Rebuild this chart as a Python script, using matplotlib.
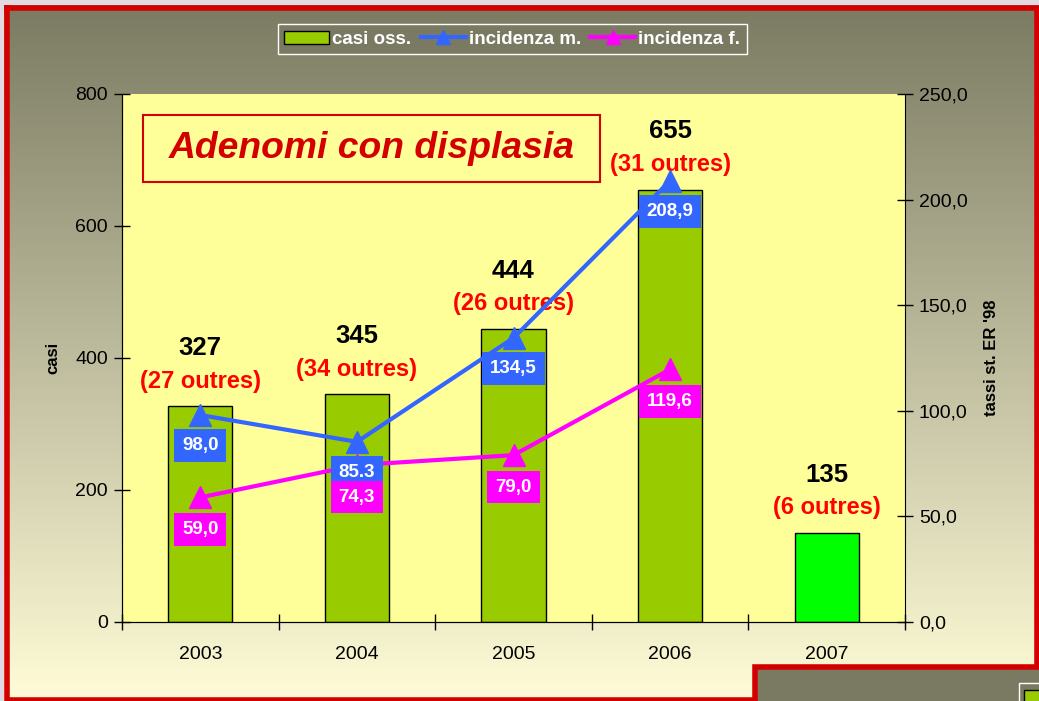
import numpy as np
import matplotlib.pyplot as plt
from matplotlib.patches import Rectangle
from matplotlib.lines import Line2D
from matplotlib.patches import Patch

# =====================================================
# DATA
# =====================================================
years = ["2003", "2004", "2005", "2006", "2007"]
casi = [327, 345, 444, 655, 135]
outres = [27, 34, 26, 31, 6]
inc_m = [98.0, 85.3, 134.5, 208.9]
inc_f = [59.0, 74.3, 79.0, 119.6]
inc_m_labels = ["98,0", "85.3", "134,5", "208,9"]
inc_f_labels = ["59,0", "74,3", "79,0", "119,6"]

# =====================================================
# STYLE
# =====================================================
plt.rcParams['font.family'] = ['Liberation Sans', 'DejaVu Sans']
RED = "#d40000"
OLIVE = "#7a7a62"
PLOT_BG = "#ffff99"
BAR = "#99cc00"
BAR_LAST = "#00ff00"
BLUE = "#3366ff"
PINK = "#ff00ff"

W, H = 1039, 701
fig = plt.figure(figsize=(W / 100, H / 100), dpi=100)

# --- background panel (gradient + red frame) ---
bg = fig.add_axes([0, 0, 1, 1], zorder=-10)
top_c = np.array([122, 122, 98]) / 255
bot_c = np.array([255, 252, 215]) / 255
t = np.linspace(0, 1, 300)[:, None]
grad = top_c[None, :] * (1 - t) + bot_c[None, :] * t
bg.imshow(grad[:, None, :], extent=[0, W, H, 0], aspect='auto')
bg.add_patch(Rectangle((0, 0), W, 5, color="#e2dae2", lw=0))
bg.add_patch(Rectangle((0, 0), 4, H, color="#e2dae2", lw=0))
bg.add_patch(Rectangle((755, 667), W - 755, H - 667, color=OLIVE, lw=0))
bg.add_patch(Rectangle((1019, 683), 40, 30, fill=False, ec="white", lw=1))
bg.add_patch(Rectangle((1024, 690), 30, 20, fc=BAR, ec="black", lw=1))
frame_x = [6.5, 1036.5, 1036.5, 755, 755, 6.5, 6.5]
frame_y = [7.5, 7.5, 667, 667, 699.5, 699.5, 7.5]
bg.plot(frame_x, frame_y, color=RED, lw=4, solid_joinstyle='miter')
bg.set_xlim(0, W)
bg.set_ylim(H, 0)
bg.axis('off')

# =====================================================
# MAIN AXES
# =====================================================
ax = fig.add_axes([122 / W, 1 - 622 / H, 783 / W, 528 / H])
ax.set_facecolor(PLOT_BG)
x = np.arange(len(years))
colors = [BAR] * (len(years) - 1) + [BAR_LAST]
ax.bar(x, casi, width=0.41, color=colors, edgecolor="black", linewidth=1, zorder=2)
ax.set_xlim(-0.5, len(years) - 0.5)
ax.set_ylim(0, 800)
ax.set_yticks(range(0, 801, 200))
ax.set_xticks(x)
ax.set_xticklabels(years)
ax.set_xticks(np.arange(-0.5, len(years), 1.0), minor=True)
ax.tick_params(axis='x', which='major', length=0, pad=17, labelsize=14)
ax.tick_params(axis='x', which='minor', direction='inout', length=12, width=1)
ax.tick_params(axis='y', direction='inout', length=12, width=1, labelsize=14, pad=4)
ax.spines['top'].set_visible(False)
ax.spines['right'].set_visible(False)
ax.set_ylabel("casi", fontsize=12, fontweight='bold', labelpad=11)

for xi, c, o in zip(x, casi, outres):
    ax.annotate(str(c), (xi, c), xytext=(0, 42), textcoords='offset points',
                ha='center', va='center', fontsize=18.5, fontweight='bold', color='black')
    ax.annotate(f"({o} outres)", (xi, c), xytext=(0, 18), textcoords='offset points',
                ha='center', va='center', fontsize=17, fontweight='bold', color='red')

# title box
ax.add_patch(Rectangle((0.027, 0.833), 0.584, 0.127, transform=ax.transAxes,
                       fc=PLOT_BG, ec=RED, lw=1.5, zorder=3))
ax.text(0.319, 0.897, "Adenomi con displasia", transform=ax.transAxes,
        ha='center', va='center', fontsize=26.8, fontweight='bold',
        fontstyle='italic', color=RED, zorder=4)

# =====================================================
# RIGHT AXIS (rates)
# =====================================================
ax2 = ax.twinx()
xl = x[:len(inc_m)]
ax2.plot(xl, inc_m, color=BLUE, lw=3, marker='^', markersize=16, zorder=3)
ax2.plot(xl, inc_f, color=PINK, lw=3, marker='^', markersize=16, zorder=3)
ax2.set_ylim(0, 250)
ax2.set_yticks(np.arange(0, 251, 50))
ax2.set_yticklabels([f"{v:.1f}".replace(".", ",") for v in np.arange(0, 251, 50)])
ax2.tick_params(axis='y', direction='inout', length=12, width=1, labelsize=14, pad=4)
ax2.spines['top'].set_visible(False)
ax2.set_ylabel("tassi st. ER '98", fontsize=12, fontweight='bold', labelpad=12)

for xi, v, lab in zip(xl, inc_m, inc_m_labels):
    ax2.annotate(lab, (xi, v), xytext=(0, -22), textcoords='offset points',
                 ha='center', va='center', fontsize=13.5, fontweight='bold', color='white',
                 bbox=dict(boxstyle='square,pad=0.42', fc=BLUE, ec='none'), zorder=4)
for xi, v, lab in zip(xl, inc_f, inc_f_labels):
    ax2.annotate(lab, (xi, v), xytext=(0, -23), textcoords='offset points',
                 ha='center', va='center', fontsize=13.5, fontweight='bold', color='white',
                 bbox=dict(boxstyle='square,pad=0.42', fc=PINK, ec='none'), zorder=5)

# =====================================================
# LEGEND
# =====================================================
handles = [
    Patch(facecolor=BAR, edgecolor='black', label="casi oss."),
    Line2D([], [], color=BLUE, lw=3, marker='^', markersize=10, label="incidenza m."),
    Line2D([], [], color=PINK, lw=3, marker='^', markersize=10, label="incidenza f."),
]
leg = fig.legend(handles=handles, loc='center', bbox_to_anchor=(0.493, 0.944), ncol=3,
                 frameon=True, fancybox=False, edgecolor='white', facecolor=OLIVE,
                 framealpha=1, handlelength=2.4, handletextpad=0.15, columnspacing=0.5,
                 borderpad=0.35, prop={'weight': 'bold', 'size': 13.5})
leg.get_frame().set_linewidth(1)
for txt in leg.get_texts():
    txt.set_color('white')

fig.savefig("out.png", dpi=100)
